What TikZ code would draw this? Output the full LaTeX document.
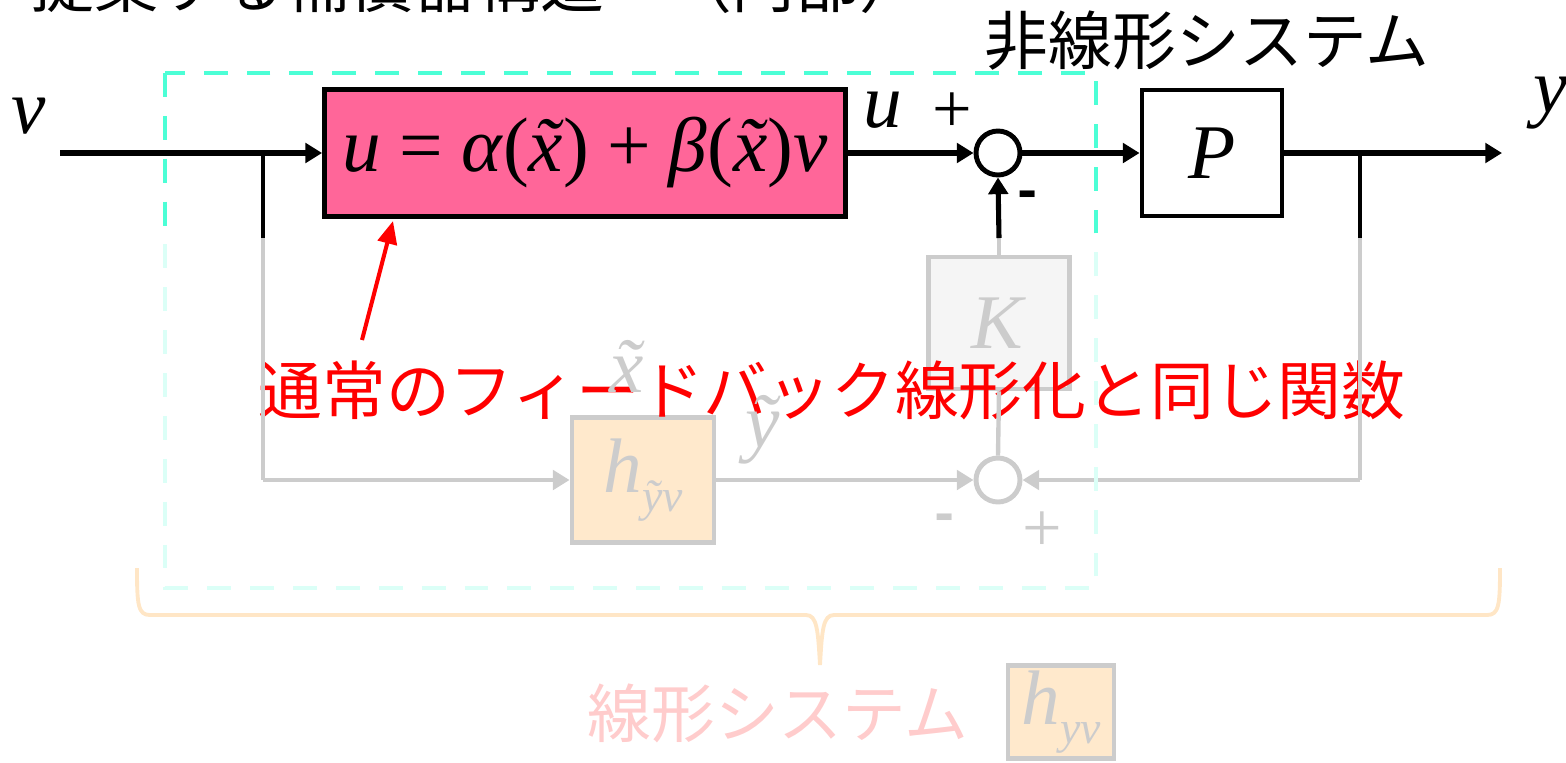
\documentclass[tikz,border=0pt]{standalone}
\usepackage{fontspec}
\setmainfont{Liberation Serif}
\newfontfamily\jp{Noto Sans CJK JP}
\usetikzlibrary{arrows.meta}
\definecolor{pinkfill}{RGB}{255,102,153}
\definecolor{cyanbright}{RGB}{76,255,214}
\definecolor{cyanfade}{RGB}{219,255,247}
\definecolor{dimgray}{RGB}{204,204,204}
\definecolor{kfill}{RGB}{245,245,245}
\definecolor{hfill}{RGB}{255,233,204}
\definecolor{bracecol}{RGB}{255,230,198}
\definecolor{pinktxt}{RGB}{255,204,204}
\newcommand\eqfont{\fontsize{44}{48}\selectfont}
\newcommand\subf{\fontsize{26}{28}\selectfont}
\newcommand\jpfont{\jp\fontsize{36.3}{40}\selectfont}
\newcommand\pmfont{\fontsize{40}{42}\selectfont}
\newcommand\tld[1]{\accent"02DC #1}
\newcommand\eqsp{\hspace{0.235em}}
\tikzset{
  blockbox/.style={draw, line width=2.8pt, inner sep=0pt, font=\eqfont},
  sumc/.style={circle, draw, fill=white, line width=2.8pt, minimum size=0.88cm, inner sep=0pt},
  sig/.style={line width=2.9pt, -{Triangle[length=9.5pt,width=11pt]}},
  plainline/.style={line width=2.8pt},
  brline/.style={line width=1.9pt},
  dimmed/.style={draw=dimgray, text=dimgray},
  cyanbox/.style={line width=2.8pt, dash pattern=on 13.6pt off 10.8pt}
}
\begin{document}
\begin{tikzpicture}[x=0.02cm,y=-0.02cm]
\useasboundingbox (0,0) rectangle (1566,762);
\clip (0,0) rectangle (1566,762);

% title (cut off at the top)
\node[font=\jpfont, anchor=base west, inner sep=0pt] (title) at (30,7) {提案する補償器構造　（内部）};
\node[font=\jpfont] (nlsys) at (1207,41) {非線形システム};

% blocks
\node[blockbox, fill=pinkfill, minimum width=10.42cm, minimum height=2.54cm] (blk) at (585,153)
  {\textit{u}\eqsp=\eqsp\textit{α}(\textit{\tld{x}})\eqsp+\eqsp\textit{β}(\textit{\tld{x}})\textit{v}};
\node[blockbox, fill=white, minimum width=2.8cm, minimum height=2.52cm] (P) at (1212,153) {\textit{P}};
\node[sumc] (s1) at (998,153) {};
\node[blockbox, dimmed, fill=kfill, minimum width=2.82cm, minimum height=2.64cm] (K) at (999,323) {\textit{K}};
\node[blockbox, dimmed, fill=hfill, minimum width=2.84cm, minimum height=2.5cm] (h) at (643,480)
  {\textit{h}\raisebox{-11pt}{\subf\textit{\tld{y}v}}};
\node[sumc, dimmed] (s2) at (998,480) {};

% bottom
\draw[bracecol, line width=2.2pt]
  (137,568) .. controls (137,605) and (138,615) .. (150,615) -- (806,615)
  .. controls (817,615) and (818,630) .. (820,665)
  .. controls (822,630) and (823,615) .. (834,615) -- (1487,615)
  .. controls (1499,615) and (1500,605) .. (1500,568);
\node[font=\jpfont, text=pinktxt] (linsys) at (778,713) {線形システム};
\node[blockbox, dimmed, fill=hfill, minimum width=2.12cm, minimum height=1.86cm] (hyv) at (1061,712)
  {\textit{h}\raisebox{-11pt}{\subf\textit{yv}}};

% coordinates
\coordinate (vin) at (60,153);
\coordinate (yout) at (1502,153);
\coordinate (br1) at (263,153);
\coordinate (br1m) at (263,238);
\coordinate (br1c) at (263,480);
\coordinate (br2) at (1360,153);
\coordinate (br2m) at (1360,238);
\coordinate (br2c) at (1360,480);
\coordinate (km) at (999,238);

% red note
\node[font=\jpfont, text=red] (note) at (832,390) {通常のフィードバック線形化と同じ関数};

% connectors
\draw[sig] (vin) -- (blk.west);
\draw[sig] (blk.east |- s1) -- (s1.west);
\draw[sig] (s1) -- (P);
\draw[sig] (P.east) -- (yout);
\draw[brline] (br1) -- (br1m);
\draw[brline, dimgray] (br1m) -- (br1c);
\draw[sig, dimgray, line width=2.5pt] (br1c) -- (h.west);
\draw[brline] (br2) -- (br2m);
\draw[brline, dimgray] (br2m) -- (br2c);
\draw[sig, dimgray, line width=2.5pt] (br2c) -- (s2.east);
\draw[sig, dimgray, line width=2.5pt] (h.east) -- (s2.west);
\draw[plainline, dimgray, line width=2.5pt] (s2.north) -- (K.south);
\draw[plainline, dimgray] (K.north) -- (km);
\draw[sig] (km) -- (s1.south);

% cyan dashed frame
\begin{scope}
\clip (0,0) rectangle (1566,238);
\draw[cyanbox, cyanbright] (165,73) rectangle (1096,588);
\end{scope}
\begin{scope}
\clip (0,238) rectangle (1566,762);
\draw[cyanbox, cyanfade] (165,73) rectangle (1096,588);
\end{scope}

% labels
\node[font=\eqfont] (lv) at (29,116) {\textit{v}};
\node[font=\eqfont] (ly) at (1551,103) {\textit{y}};
\node[font=\eqfont] (lu) at (883,110) {\textit{u}};
\node[font=\pmfont] (lp1) at (952,113) {+};
\node[font=\jp\fontsize{30}{32}\selectfont\bfseries] (lm1) at (1028,200) {-};
\node[font=\eqfont, text=dimgray] (lx) at (627,366) {\textit{\tld{x}}};
\node[font=\eqfont, text=dimgray] (lyt) at (763,430) {\textit{\tld{y}}};
\node[font=\jp\fontsize{30}{32}\selectfont\bfseries, text=dimgray] (lm2) at (945,523) {-};
\node[font=\pmfont, text=dimgray] (lp2) at (1042,532) {+};

% red arrow
\coordinate (arrtail) at (362,340);
\coordinate (arrtip) at (393,221);
\draw[red, line width=2.3pt, -{Triangle[length=13pt,width=11pt]}] (arrtail) -- (arrtip);
\end{tikzpicture}
\end{document}
